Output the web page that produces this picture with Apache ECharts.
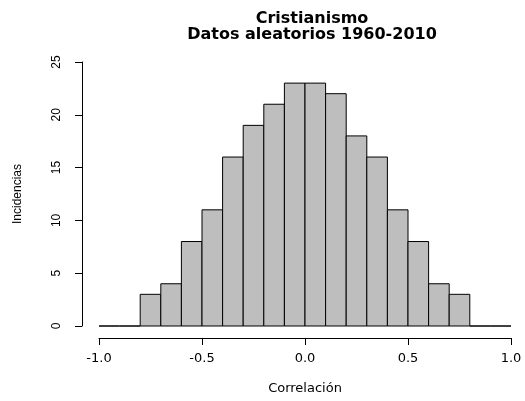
<!DOCTYPE html>
<html>
<head>
<meta charset="utf-8">
<script src="https://cdn.jsdelivr.net/npm/echarts@6/dist/echarts.min.js"></script>
<style>
  html, body { margin: 0; padding: 0; background: #fff; }
  #chart { width: 525px; height: 401px; }
</style>
</head>
<body>
<div id="chart"></div>
<script>
// histogram breaks and counts
var breaks = [-1.0, -0.9, -0.8, -0.7, -0.6, -0.5, -0.4, -0.3, -0.2, -0.1, 0.0,
              0.1, 0.2, 0.3, 0.4, 0.5, 0.6, 0.7, 0.8, 0.9, 1.0];
var counts = [0, 0, 3, 4, 8, 11, 16, 19, 21, 23, 23, 22, 18, 16, 11, 8, 4, 3, 0, 0];
var xTicks = [-1.0, -0.5, 0.0, 0.5, 1.0];
var yTicks = [0, 5, 10, 15, 20, 25];

var bins = counts.map(function (c, i) { return [breaks[i], breaks[i + 1], c]; });

var font = 'Liberation Sans, Arial, sans-serif';
var wide = 'DejaVu Sans, sans-serif';
var myChart = echarts.init(document.getElementById('chart'));
myChart.setOption({
    animation: false,
    title: {
        text: 'Cristianismo\nDatos aleatorios 1960-2010',
        left: 307,
        top: 6,
        textAlign: 'center',
        textStyle: { fontFamily: wide, fontSize: 16, fontWeight: 'bold', color: '#000', lineHeight: 16 }
    },
    grid: { left: 99, right: 14, top: 62, bottom: 75 },
    xAxis: {
        type: 'value',
        min: xTicks[0],
        max: xTicks[xTicks.length - 1],
        interval: 0.5,
        offset: 12,
        name: 'Correlación',
        nameLocation: 'middle',
        nameGap: 44,
        nameTextStyle: { fontFamily: wide, fontSize: 13, color: '#000' },
        axisLine: { onZero: false, lineStyle: { color: '#000', width: 1 } },
        axisTick: { length: 7, lineStyle: { color: '#000' } },
        axisLabel: {
            fontFamily: wide, fontSize: 13, color: '#000', margin: 14,
            formatter: function (v) { return v.toFixed(1); }
        },
        splitLine: { show: false }
    },
    yAxis: {
        type: 'value',
        min: yTicks[0],
        max: yTicks[yTicks.length - 1],
        interval: 5,
        offset: 17,
        name: 'Incidencias',
        nameLocation: 'middle',
        nameGap: 58,
        nameTextStyle: { fontFamily: font, fontSize: 12, color: '#000' },
        axisLine: { show: true, onZero: false, lineStyle: { color: '#000', width: 1 } },
        axisTick: { show: true, length: 7, lineStyle: { color: '#000' } },
        axisLabel: { fontFamily: font, fontSize: 12, color: '#000', rotate: 90, margin: 19 },
        splitLine: { show: false }
    },
    series: [{
        type: 'custom',
        data: bins,
        encode: { x: [0, 1], y: 2 },
        renderItem: function (params, api) {
            var p0 = api.coord([api.value(0), api.value(2)]);
            var p1 = api.coord([api.value(1), 0]);
            return {
                type: 'rect',
                shape: { x: p0[0], y: p0[1], width: p1[0] - p0[0], height: p1[1] - p0[1] },
                style: { fill: '#bebebe', stroke: '#000', lineWidth: 1 }
            };
        }
    }]
});
</script>
</body>
</html>
